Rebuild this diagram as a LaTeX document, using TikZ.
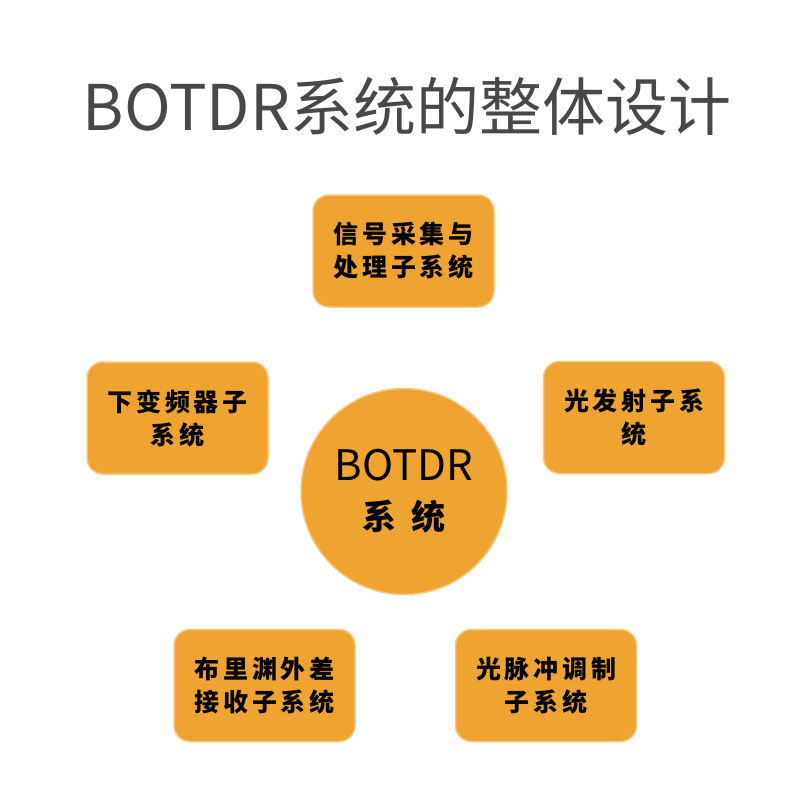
\documentclass[tikz,border=0pt]{standalone}
\usepackage{fontspec}
\newfontfamily\cjk{Noto Sans CJK SC}
\newfontfamily\boxcjk[LetterSpace=15]{Noto Sans CJK SC}
\definecolor{boxfill}{RGB}{239,163,48}
\definecolor{boxedge}{RGB}{247,200,130}
\definecolor{titlegray}{RGB}{72,72,72}
\tikzset{
  subsys/.style={draw=boxedge, line width=1.5pt, fill=boxfill, rounded corners=16pt,
    minimum width=181pt, minimum height=112pt, inner sep=0pt, align=center,
    font=\boxcjk\bfseries\fontsize{25}{33}\selectfont, text=black},
  core/.style={circle, draw=boxedge, line width=1.5pt, fill=boxfill, minimum size=206pt,
    inner sep=0pt, align=center, text=black},
}
\begin{document}
\begin{tikzpicture}[x=1pt,y=-1pt]
\useasboundingbox (0,0) rectangle (800,800);
\node[anchor=base, text=titlegray, font=\cjk\fontsize{63}{70}\selectfont] (title) at (407,130) {BOTDR系统的整体设计};
\node[subsys] (sig) at (403.5,251) {信号采集与\\处理子系统};
\node[subsys] (down) at (177.5,418) {下变频器子\\系统};
\node[subsys] (emit) at (634,417.5) {光发射子系\\统};
\node[subsys] (recv) at (264.5,685.5) {布里渊外差\\接收子系统};
\node[subsys] (mod) at (546,685.5) {光脉冲调制\\子系统};
\node[core] (sys) at (404,491.5) {{\cjk\fontsize{42}{46}\selectfont BOTDR}\\[18pt]{\cjk\bfseries\fontsize{34}{40}\selectfont 系\hspace{15pt}统}};
\end{tikzpicture}
\end{document}
